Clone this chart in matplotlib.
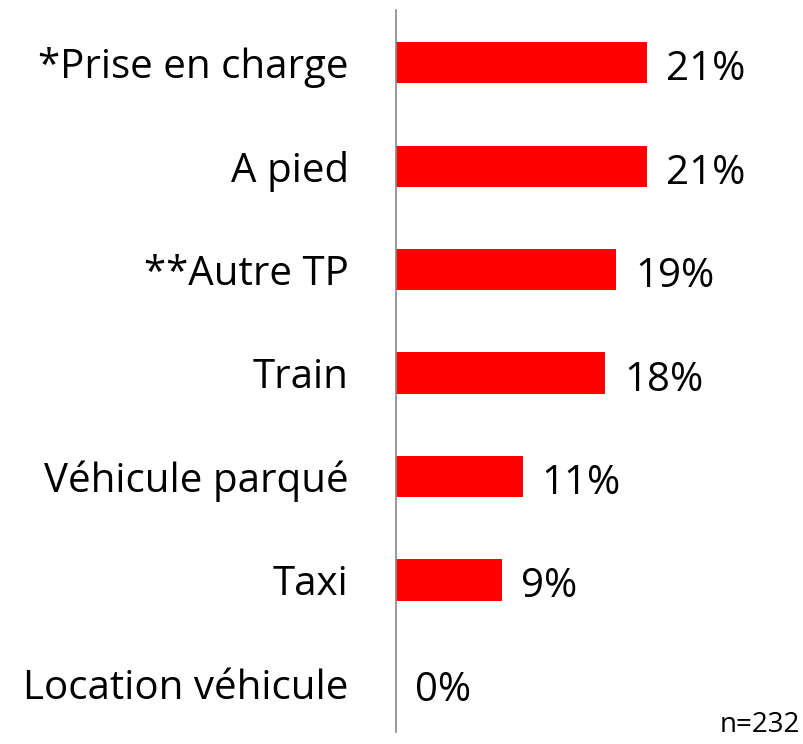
import matplotlib
matplotlib.use('Agg')
import matplotlib.pyplot as plt

# données
categories = ['*Prise en charge', 'A pied', '**Autre TP', 'Train',
              'Véhicule parqué', 'Taxi', 'Location véhicule']
values = [21.2, 21.2, 18.6, 17.7, 10.7, 9.0, 0.0]
note = 'n=232'

plt.rcParams['font.family'] = ['Open Sans', 'DejaVu Sans']

fig = plt.figure(figsize=(8.04, 7.44), dpi=100)
ax = fig.add_axes([396 / 804, 12 / 744, 408 / 804, 722 / 744])

pos = list(range(len(categories)))
ax.barh(pos, values, height=0.4, color='#ff0000')

for y, v in zip(pos, values):
    ax.text(v + 1.6, y + 0.07, f'{v:.0f}%', va='center', ha='left',
            fontsize=29, color='black')

ax.set_xlim(0, 34.5)
ax.set_ylim(6.47, -0.51)
ax.set_yticks(pos)
ax.set_yticklabels(categories, fontsize=29)
ax.tick_params(axis='y', length=0, pad=34)
ax.set_xticks([])

for side in ('top', 'right', 'bottom'):
    ax.spines[side].set_visible(False)
ax.spines['left'].set_color('#888888')
ax.spines['left'].set_linewidth(1.2)

fig.text(800 / 804, 1 - 725 / 744, note, ha='right', va='center', fontsize=20)

fig.savefig('out.png', dpi=100, facecolor='white')
